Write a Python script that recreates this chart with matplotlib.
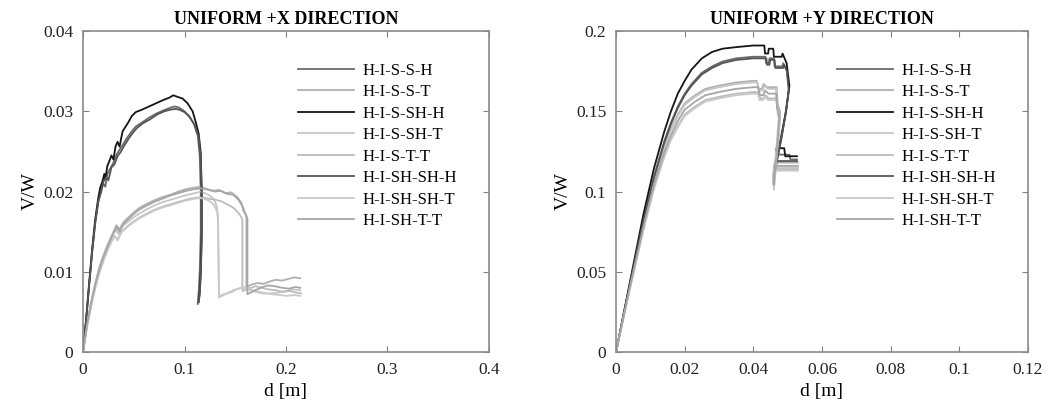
import matplotlib
matplotlib.use("Agg")
import matplotlib.pyplot as plt

plt.rcParams['font.family'] = ['Liberation Serif', 'DejaVu Serif']

labels = ['H-I-S-S-H', 'H-I-S-S-T', 'H-I-S-SH-H', 'H-I-S-SH-T',
          'H-I-S-T-T', 'H-I-SH-SH-H', 'H-I-SH-SH-T', 'H-I-SH-T-T']
colors = ['#6a6a6a', '#b0b0b0', '#151515', '#c6c6c6',
          '#bcbcbc', '#555555', '#cacaca', '#a6a6a6']

# ---- uniform +X direction : d [m], V/W ----
x_d_sh = [0, 0.003, 0.006, 0.009, 0.012, 0.015, 0.018, 0.020, 0.022, 0.024, 0.027, 0.030,
          0.033, 0.036, 0.040, 0.044, 0.048, 0.052, 0.058, 0.065, 0.072, 0.079, 0.085, 0.090,
          0.094, 0.099, 0.104, 0.109, 0.113, 0.115, 0.116, 0.116, 0.115, 0.114, 0.113]
x_v_sh = [0, 0.0038, 0.0082, 0.0124, 0.0160, 0.0186, 0.0202, 0.0210, 0.0206, 0.0222, 0.0229, 0.0236,
          0.0246, 0.0252, 0.0260, 0.0268, 0.0275, 0.0281, 0.0286, 0.0292, 0.0297, 0.0301, 0.0304, 0.0306,
          0.0305, 0.0301, 0.0295, 0.0285, 0.0270, 0.0245, 0.0200, 0.0150, 0.0100, 0.0075, 0.0060]

x_d_ssh = [0, 0.003, 0.006, 0.009, 0.012, 0.015, 0.017, 0.019, 0.021, 0.022, 0.024, 0.026, 0.028,
           0.030, 0.032, 0.034, 0.036, 0.039, 0.042, 0.045, 0.048, 0.052, 0.058, 0.065, 0.072, 0.079,
           0.085, 0.089, 0.093, 0.098, 0.103, 0.108, 0.111, 0.114, 0.116, 0.117, 0.117, 0.116, 0.115, 0.114]
x_v_ssh = [0, 0.0040, 0.0085, 0.0128, 0.0165, 0.0192, 0.0205, 0.0212, 0.0222, 0.0216, 0.0232, 0.0238, 0.0245,
           0.0240, 0.0256, 0.0262, 0.0256, 0.0275, 0.0281, 0.0287, 0.0294, 0.0299, 0.0302, 0.0306, 0.0310, 0.0314,
           0.0317, 0.0320, 0.0318, 0.0316, 0.0310, 0.0300, 0.0287, 0.0272, 0.0248, 0.0200, 0.0150, 0.0100, 0.0075, 0.0063]

x_d_shsh = [0, 0.003, 0.006, 0.009, 0.012, 0.015, 0.018, 0.020, 0.023, 0.025, 0.028, 0.031,
            0.034, 0.037, 0.041, 0.045, 0.049, 0.053, 0.059, 0.066, 0.073, 0.080, 0.086, 0.091,
            0.095, 0.100, 0.105, 0.110, 0.114, 0.116, 0.117, 0.117, 0.116, 0.115, 0.114]
x_v_shsh = [0, 0.0039, 0.0083, 0.0125, 0.0161, 0.0188, 0.0200, 0.0212, 0.0218, 0.0214, 0.0230, 0.0234,
            0.0244, 0.0249, 0.0258, 0.0266, 0.0273, 0.0279, 0.0285, 0.0290, 0.0296, 0.0300, 0.0302, 0.0303,
            0.0302, 0.0299, 0.0293, 0.0283, 0.0268, 0.0240, 0.0195, 0.0140, 0.0095, 0.0072, 0.0062]

x_d_sst = [0, 0.004, 0.008, 0.012, 0.016, 0.020, 0.025, 0.030, 0.033, 0.036, 0.040, 0.045, 0.050,
           0.056, 0.062, 0.070, 0.078, 0.086, 0.094, 0.102, 0.110, 0.116, 0.122, 0.128, 0.134, 0.140,
           0.146, 0.152, 0.156, 0.158, 0.161, 0.161, 0.166, 0.172, 0.178, 0.184, 0.190, 0.196, 0.202,
           0.208, 0.214]
x_v_sst = [0, 0.0035, 0.0062, 0.0085, 0.0105, 0.0120, 0.0136, 0.0150, 0.0158, 0.0153, 0.0162, 0.0168, 0.0174,
           0.0180, 0.0184, 0.0189, 0.0193, 0.0196, 0.0200, 0.0203, 0.0205, 0.0206, 0.0203, 0.0201, 0.0202, 0.0198,
           0.0199, 0.0193, 0.0186, 0.0176, 0.0170, 0.0081, 0.0084, 0.0086, 0.0085, 0.0088, 0.0090, 0.0089, 0.0091,
           0.0093, 0.0092]

x_d_ssht = [0, 0.004, 0.008, 0.012, 0.016, 0.020, 0.025, 0.029, 0.032, 0.035, 0.039, 0.044, 0.050,
            0.056, 0.063, 0.071, 0.079, 0.087, 0.095, 0.103, 0.110, 0.116, 0.122, 0.127, 0.130, 0.132,
            0.133, 0.134, 0.140, 0.147, 0.153, 0.160, 0.163, 0.170, 0.177, 0.185, 0.192, 0.200, 0.207, 0.214]
x_v_ssht = [0, 0.0034, 0.0061, 0.0084, 0.0104, 0.0119, 0.0134, 0.0146, 0.0152, 0.0147, 0.0157, 0.0162, 0.0168,
            0.0173, 0.0178, 0.0183, 0.0187, 0.0190, 0.0193, 0.0196, 0.0198, 0.0200, 0.0197, 0.0193, 0.0188, 0.0180,
            0.0168, 0.0068, 0.0072, 0.0075, 0.0079, 0.0081, 0.0078, 0.0075, 0.0073, 0.0073, 0.0074, 0.0076, 0.0078, 0.0077]

x_d_stt = [0, 0.004, 0.008, 0.012, 0.016, 0.020, 0.024, 0.028, 0.031, 0.034, 0.038, 0.043, 0.049,
           0.055, 0.062, 0.070, 0.078, 0.086, 0.094, 0.102, 0.110, 0.117, 0.124, 0.130, 0.136, 0.142,
           0.148, 0.152, 0.155, 0.157, 0.157, 0.163, 0.170, 0.176, 0.183, 0.190, 0.197, 0.204, 0.210, 0.215]
x_v_stt = [0, 0.0032, 0.0058, 0.0080, 0.0099, 0.0114, 0.0127, 0.0138, 0.0145, 0.0140, 0.0150, 0.0156, 0.0162,
           0.0167, 0.0172, 0.0177, 0.0181, 0.0184, 0.0187, 0.0190, 0.0192, 0.0193, 0.0191, 0.0190, 0.0188, 0.0184,
           0.0180, 0.0175, 0.0170, 0.0165, 0.0076, 0.0079, 0.0082, 0.0080, 0.0078, 0.0077, 0.0075, 0.0076, 0.0074, 0.0073]

x_d_shsht = [0, 0.004, 0.008, 0.012, 0.016, 0.020, 0.024, 0.028, 0.031, 0.034, 0.038, 0.043, 0.049,
             0.055, 0.062, 0.070, 0.078, 0.086, 0.094, 0.102, 0.110, 0.116, 0.122, 0.127, 0.130, 0.132,
             0.133, 0.134, 0.141, 0.148, 0.156, 0.163, 0.170, 0.178, 0.186, 0.194, 0.201, 0.208, 0.214]
x_v_shsht = [0, 0.0031, 0.0057, 0.0079, 0.0098, 0.0113, 0.0126, 0.0137, 0.0144, 0.0139, 0.0149, 0.0155, 0.0161,
             0.0166, 0.0171, 0.0176, 0.0180, 0.0183, 0.0186, 0.0189, 0.0191, 0.0192, 0.0190, 0.0186, 0.0181, 0.0175,
             0.0165, 0.0070, 0.0073, 0.0077, 0.0080, 0.0079, 0.0076, 0.0074, 0.0072, 0.0071, 0.0070, 0.0071, 0.0070]

x_d_shtt = [0, 0.004, 0.008, 0.012, 0.016, 0.020, 0.025, 0.030, 0.033, 0.036, 0.040, 0.045, 0.050,
            0.056, 0.062, 0.070, 0.078, 0.086, 0.094, 0.102, 0.110, 0.117, 0.124, 0.130, 0.136, 0.142,
            0.148, 0.153, 0.157, 0.160, 0.162, 0.162, 0.168, 0.175, 0.182, 0.189, 0.196, 0.203, 0.209, 0.214]
x_v_shtt = [0, 0.0034, 0.0061, 0.0084, 0.0103, 0.0118, 0.0134, 0.0148, 0.0155, 0.0150, 0.0160, 0.0166, 0.0172,
            0.0178, 0.0182, 0.0187, 0.0191, 0.0195, 0.0198, 0.0201, 0.0203, 0.0204, 0.0202, 0.0200, 0.0201, 0.0197,
            0.0196, 0.0190, 0.0182, 0.0172, 0.0166, 0.0072, 0.0076, 0.0080, 0.0083, 0.0082, 0.0080, 0.0079, 0.0081, 0.0080]

# ---- uniform +Y direction : d [m], V/W ----
y_d_sh = [0, 0.004, 0.008, 0.011, 0.014, 0.016, 0.018, 0.020, 0.022, 0.025, 0.028, 0.031, 0.035,
          0.040, 0.0435, 0.0437, 0.0445, 0.0447, 0.046, 0.0462, 0.0485, 0.0487, 0.0497, 0.0504, 0.0495,
          0.0482, 0.0466, 0.0468, 0.0505, 0.0508, 0.0527]
y_v_sh = [0, 0.042, 0.083, 0.109, 0.131, 0.143, 0.153, 0.161, 0.167, 0.174, 0.178, 0.181, 0.183,
          0.184, 0.184, 0.180, 0.180, 0.183, 0.183, 0.178, 0.178, 0.180, 0.176, 0.164, 0.150,
          0.133, 0.116, 0.123, 0.123, 0.120, 0.120]

y_d_ssh = [0, 0.004, 0.008, 0.011, 0.014, 0.016, 0.018, 0.020, 0.022, 0.025, 0.028, 0.031, 0.035,
           0.040, 0.0432, 0.0434, 0.0443, 0.0445, 0.0458, 0.0460, 0.0483, 0.0485, 0.0497, 0.0505, 0.0495,
           0.0480, 0.0465, 0.0467, 0.0490, 0.0493, 0.0527]
y_v_ssh = [0, 0.043, 0.086, 0.114, 0.137, 0.150, 0.161, 0.169, 0.176, 0.183, 0.187, 0.189, 0.190,
           0.191, 0.191, 0.186, 0.186, 0.189, 0.189, 0.184, 0.184, 0.186, 0.180, 0.166, 0.150,
           0.133, 0.117, 0.127, 0.127, 0.122, 0.122]

y_d_shsh = [0, 0.004, 0.008, 0.011, 0.014, 0.016, 0.018, 0.020, 0.022, 0.025, 0.028, 0.031, 0.035,
            0.040, 0.0438, 0.0440, 0.0447, 0.0449, 0.0462, 0.0464, 0.0487, 0.0489, 0.0498, 0.0503, 0.0494,
            0.0480, 0.0464, 0.0466, 0.0510, 0.0527]
y_v_shsh = [0, 0.042, 0.082, 0.108, 0.130, 0.142, 0.152, 0.160, 0.166, 0.173, 0.177, 0.180, 0.182,
            0.183, 0.183, 0.179, 0.179, 0.182, 0.182, 0.177, 0.177, 0.179, 0.175, 0.163, 0.148,
            0.132, 0.114, 0.119, 0.119, 0.119]

y_d_sst = [0, 0.004, 0.008, 0.011, 0.014, 0.016, 0.018, 0.020, 0.023, 0.026, 0.030, 0.035, 0.040,
           0.0410, 0.0415, 0.0425, 0.0430, 0.0440, 0.0468, 0.0470, 0.0478, 0.0470, 0.0460, 0.0458,
           0.0462, 0.0530]
y_v_sst = [0, 0.040, 0.080, 0.107, 0.128, 0.139, 0.148, 0.155, 0.160, 0.164, 0.166, 0.168, 0.169,
           0.169, 0.164, 0.164, 0.167, 0.165, 0.165, 0.155, 0.150, 0.126, 0.104, 0.110,
           0.118, 0.118]

y_d_ssht = [0, 0.004, 0.008, 0.011, 0.014, 0.016, 0.018, 0.020, 0.023, 0.026, 0.030, 0.035, 0.040,
            0.0412, 0.0417, 0.0427, 0.0432, 0.0442, 0.0466, 0.0468, 0.0475, 0.0466, 0.0457, 0.0460, 0.0530]
y_v_ssht = [0, 0.040, 0.079, 0.106, 0.127, 0.138, 0.147, 0.154, 0.159, 0.163, 0.165, 0.167, 0.168,
            0.168, 0.163, 0.163, 0.166, 0.164, 0.164, 0.154, 0.149, 0.124, 0.106, 0.115, 0.115]

y_d_stt = [0, 0.004, 0.008, 0.011, 0.014, 0.016, 0.018, 0.020, 0.023, 0.026, 0.030, 0.035, 0.040,
           0.0415, 0.0420, 0.0430, 0.0435, 0.0445, 0.0470, 0.0472, 0.0478, 0.0470, 0.0462, 0.0465, 0.0530]
y_v_stt = [0, 0.039, 0.077, 0.102, 0.122, 0.133, 0.141, 0.148, 0.153, 0.157, 0.159, 0.161, 0.162,
           0.162, 0.158, 0.158, 0.160, 0.158, 0.158, 0.150, 0.146, 0.125, 0.108, 0.114, 0.114]

y_d_shsht = [0, 0.004, 0.008, 0.011, 0.014, 0.016, 0.018, 0.020, 0.023, 0.026, 0.030, 0.035, 0.040,
             0.0413, 0.0418, 0.0428, 0.0433, 0.0443, 0.0469, 0.0471, 0.0477, 0.0468, 0.0460, 0.0463, 0.0530]
y_v_shsht = [0, 0.039, 0.076, 0.101, 0.121, 0.132, 0.140, 0.147, 0.152, 0.156, 0.158, 0.160, 0.161,
             0.161, 0.157, 0.157, 0.159, 0.157, 0.157, 0.148, 0.144, 0.122, 0.101, 0.113, 0.113]

y_d_shtt = [0, 0.004, 0.008, 0.011, 0.014, 0.016, 0.018, 0.020, 0.023, 0.026, 0.030, 0.035, 0.040,
            0.0414, 0.0419, 0.0429, 0.0434, 0.0444, 0.0467, 0.0469, 0.0476, 0.0468, 0.0459, 0.0462, 0.0530]
y_v_shtt = [0, 0.040, 0.078, 0.104, 0.124, 0.135, 0.144, 0.151, 0.156, 0.160, 0.162, 0.164, 0.165,
            0.165, 0.160, 0.160, 0.163, 0.161, 0.161, 0.152, 0.147, 0.123, 0.104, 0.116, 0.116]

x_series = [(x_d_sh, x_v_sh), (x_d_sst, x_v_sst), (x_d_ssh, x_v_ssh), (x_d_ssht, x_v_ssht),
            (x_d_stt, x_v_stt), (x_d_shsh, x_v_shsh), (x_d_shsht, x_v_shsht), (x_d_shtt, x_v_shtt)]
y_series = [(y_d_sh, y_v_sh), (y_d_sst, y_v_sst), (y_d_ssh, y_v_ssh), (y_d_ssht, y_v_ssht),
            (y_d_stt, y_v_stt), (y_d_shsh, y_v_shsh), (y_d_shsht, y_v_shsht), (y_d_shtt, y_v_shtt)]

x_ticks = [0, 0.1, 0.2, 0.3, 0.4]
x_ytick = [0, 0.01, 0.02, 0.03, 0.04]
y_ticks = [0, 0.02, 0.04, 0.06, 0.08, 0.1, 0.12]
y_ytick = [0, 0.05, 0.1, 0.15, 0.2]


def fmt(v):
    s = ('%.2f' % v).rstrip('0').rstrip('.')
    return s


fig = plt.figure(figsize=(10.48, 4.12), dpi=100)
ax1 = fig.add_axes([0.0792, 0.1456, 0.3874, 0.779])
ax2 = fig.add_axes([0.5878, 0.1456, 0.3931, 0.779])

panels = [(ax1, x_series, 'UNIFORM +X DIRECTION', x_ticks, x_ytick),
          (ax2, y_series, 'UNIFORM +Y DIRECTION', y_ticks, y_ytick)]

for ax, series, title, xt, yt in panels:
    for (d, v), lab, c in zip(series, labels, colors):
        ax.plot(d, v, color=c, lw=1.3, label=lab)
    ax.set_xlim(xt[0], xt[-1])
    ax.set_ylim(yt[0], yt[-1])
    ax.set_xticks(xt)
    ax.set_yticks(yt)
    ax.set_xticklabels([fmt(t) for t in xt])
    ax.set_yticklabels([fmt(t) for t in yt])
    ax.tick_params(direction='in', length=4, width=0.8, color='#808080',
                   top=True, right=True, labelsize=12.5, pad=7, labelcolor='#222222')
    for sp in ax.spines.values():
        sp.set_color('#8a8a8a')
        sp.set_linewidth(1.2)
    ax.set_title(title, fontsize=13, fontweight='bold', pad=5)
    ax.set_xlabel('d [m]', fontsize=14, labelpad=4)
    ax.set_ylabel('V/W', fontsize=14, labelpad=3)
    ax.legend(loc='upper right', frameon=False, fontsize=12, handlelength=3.4,
              handletextpad=0.5, labelspacing=0.33, borderaxespad=1.5)

fig.savefig('out.png', dpi=100)
